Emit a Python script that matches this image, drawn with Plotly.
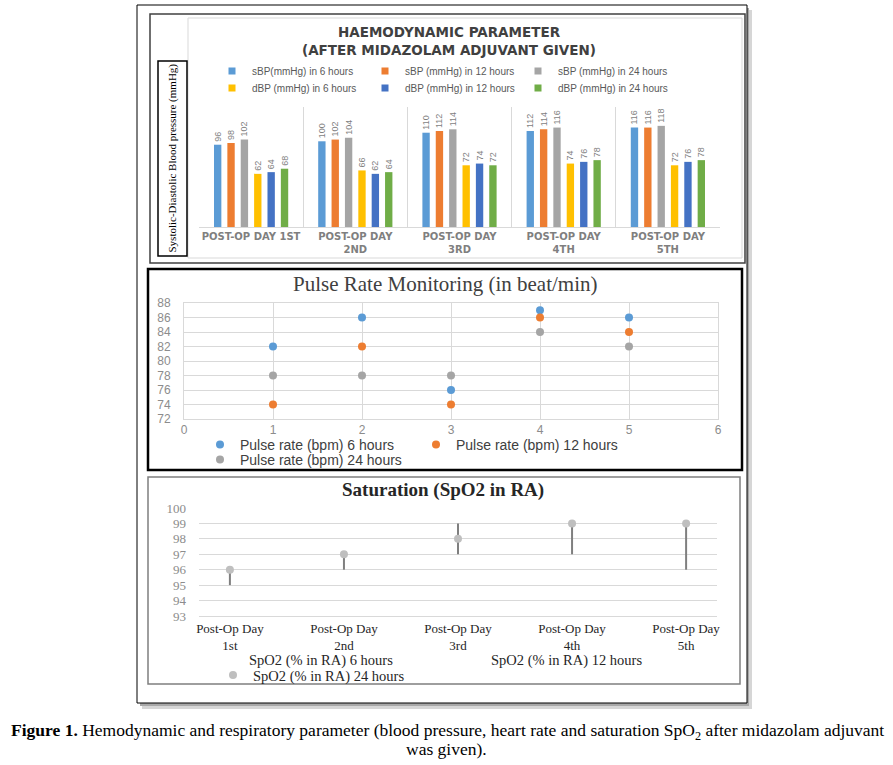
import plotly.graph_objects as go

# ---------------- DATA ----------------
bp_days = ["POST-OP DAY 1ST", "POST-OP DAY<br>2ND", "POST-OP DAY<br>3RD",
           "POST-OP DAY<br>4TH", "POST-OP DAY<br>5TH"]
sbp_6h = [96, 100, 110, 112, 116]
sbp_12h = [98, 102, 112, 114, 116]
sbp_24h = [102, 104, 114, 116, 118]
dbp_6h = [62, 66, 72, 74, 72]
dbp_12h = [64, 62, 74, 76, 76]
dbp_24h = [68, 64, 72, 78, 78]
bp_names = ["sBP(mmHg) in 6 hours", "sBP (mmHg) in 12 hours", "sBP (mmHg) in 24 hours",
            "dBP (mmHg) in 6 hours", "dBP (mmHg) in 12 hours", "dBP (mmHg) in 24 hours"]

pulse_day = [1, 2, 3, 4, 5]
pulse_6h = [82, 86, 76, 87, 86]
pulse_12h = [74, 82, 74, 86, 84]
pulse_24h = [78, 78, 78, 84, 82]
pulse_names = ["Pulse rate (bpm) 6 hours", "Pulse rate (bpm) 12 hours", "Pulse rate (bpm) 24 hours"]

spo2_days = ["Post-Op Day<br>1st", "Post-Op Day<br>2nd", "Post-Op Day<br>3rd",
             "Post-Op Day<br>4th", "Post-Op Day<br>5th"]
spo2_6h = [95, 96, 97, 97, 96]
spo2_12h = [96, 97, 99, 98, 98]
spo2_24h = [96, 97, 98, 99, 99]
spo2_names = ["SpO2 (% in RA) 6 hours", "SpO2 (% in RA) 12 hours", "SpO2 (% in RA) 24 hours"]

# ---------------- HELPERS ----------------
W, H = 893, 765
def px(x):
    return x / W
def py(y):
    return 1 - y / H

fig = go.Figure()

# ---------------- TOP: bar chart ----------------
bp_series = [sbp_6h, sbp_12h, sbp_24h, dbp_6h, dbp_12h, dbp_24h]
bp_colors = ["#5B9BD5", "#ED7D31", "#A5A5A5", "#FFC000", "#4472C4", "#70AD47"]
for i, (vals, name, col) in enumerate(zip(bp_series, bp_names, bp_colors)):
    fig.add_trace(go.Bar(
        x=bp_days, y=vals, name=name, marker=dict(color=col, line=dict(width=0)),
        text=vals, textposition="outside", textangle=-90, constraintext="none",
        textfont=dict(family="Liberation Sans", size=9, color="#7f7f7f"),
        cliponaxis=False, xaxis="x", yaxis="y", showlegend=False, legendgroup=name))
# legend entries with small square keys (as in the original legend)
for i, (name, col) in enumerate(zip(bp_names, bp_colors)):
    fig.add_trace(go.Scatter(
        x=[None], y=[None], mode="markers", name=name, legendgroup=name,
        marker=dict(symbol="square", size=7, color=col), xaxis="x", yaxis="y",
        legend="legend" if i < 3 else "legend2"))

# ---------------- MIDDLE: pulse scatter ----------------
pulse_series = [pulse_6h, pulse_12h, pulse_24h]
pulse_colors = ["#5B9BD5", "#ED7D31", "#A5A5A5"]
for i, (vals, name, col) in enumerate(zip(pulse_series, pulse_names, pulse_colors)):
    fig.add_trace(go.Scatter(
        x=pulse_day, y=vals, name=name, mode="markers",
        marker=dict(color=col, size=8), xaxis="x2", yaxis="y2",
        legend="legend3" if i < 2 else "legend4"))

# ---------------- BOTTOM: SpO2 high-low ----------------
hl_x, hl_y = [], []
for d, a, b, c in zip(spo2_days, spo2_6h, spo2_12h, spo2_24h):
    hl_x += [d, d, None]
    hl_y += [min(a, b, c), max(a, b, c), None]
fig.add_trace(go.Scatter(x=hl_x, y=hl_y, mode="lines", line=dict(color="#7f7f7f", width=2),
                         showlegend=False, hoverinfo="skip", xaxis="x3", yaxis="y3"))
fig.add_trace(go.Scatter(x=spo2_days, y=spo2_6h, name=spo2_names[0], mode="markers",
                         marker=dict(color="rgba(0,0,0,0)", size=8),
                         xaxis="x3", yaxis="y3", legend="legend5"))
fig.add_trace(go.Scatter(x=spo2_days, y=spo2_12h, name=spo2_names[1], mode="markers",
                         marker=dict(color="rgba(0,0,0,0)", size=8),
                         xaxis="x3", yaxis="y3", legend="legend5"))
fig.add_trace(go.Scatter(x=spo2_days, y=spo2_24h, name=spo2_names[2], mode="markers",
                         marker=dict(color="#BFBFBF", size=8),
                         xaxis="x3", yaxis="y3", legend="legend6"))

# ---------------- SHAPES ----------------
shapes = [
    # shadow of outer frame
    dict(type="rect", xref="paper", yref="paper", x0=px(142), x1=px(752), y0=py(10), y1=py(709),
         fillcolor="#d6d6d6", line=dict(width=0), layer="below"),
    dict(type="rect", xref="paper", yref="paper", x0=px(140), x1=px(749), y0=py(8), y1=py(706),
         fillcolor="#a8a8a8", line=dict(width=0), layer="below"),
    # outer frame
    dict(type="rect", xref="paper", yref="paper", x0=px(137), x1=px(747), y0=py(5), y1=py(703),
         fillcolor="white", line=dict(color="#000000", width=1), layer="below"),
    # top panel frame
    dict(type="rect", xref="paper", yref="paper", x0=px(150), x1=px(745), y0=py(14), y1=py(263),
         line=dict(color="#404040", width=1.5), layer="below"),
    # top chart area
    dict(type="rect", xref="paper", yref="paper", x0=px(188), x1=px(742), y0=py(18), y1=py(258),
         line=dict(color="#d9d9d9", width=1), layer="below"),
    # y-label box
    dict(type="rect", xref="paper", yref="paper", x0=px(158), x1=px(187), y0=py(61), y1=py(256),
         fillcolor="white", line=dict(color="#000000", width=1.5), layer="below"),
    # middle panel
    dict(type="rect", xref="paper", yref="paper", x0=px(148), x1=px(742), y0=py(269), y1=py(470),
         line=dict(color="#000000", width=2.5), layer="below"),
    # bottom panel
    dict(type="rect", xref="paper", yref="paper", x0=px(148), x1=px(740), y0=py(477), y1=py(684),
         line=dict(color="#7f7f7f", width=1.5), layer="below"),
]

# ---------------- ANNOTATIONS ----------------
annotations = [
    dict(text="HAEMODYNAMIC PARAMETER<br>(AFTER MIDAZOLAM ADJUVANT GIVEN)",
         x=px(449), y=py(41), xref="paper", yref="paper", xanchor="center", yanchor="middle",
         showarrow=False, font=dict(family="DejaVu Sans", size=13.5, color="#404040", weight="bold")),
    dict(text="Systolic-Diastolic Blood pressure (mmHg)", textangle=-90,
         x=px(172.5), y=py(158), xref="paper", yref="paper", xanchor="center", yanchor="middle",
         showarrow=False, font=dict(family="Liberation Serif", size=11, color="#000000")),
    dict(text="Pulse Rate Monitoring (in beat/min)",
         x=px(445), y=py(284), xref="paper", yref="paper", xanchor="center", yanchor="middle",
         showarrow=False, font=dict(family="Liberation Serif", size=21, color="#404040")),
    dict(text="<b>Saturation (SpO2 in RA)</b>",
         x=px(443), y=py(490), xref="paper", yref="paper", xanchor="center", yanchor="middle",
         showarrow=False, font=dict(family="Liberation Serif", size=19, color="#262626")),
    dict(text="<b>Figure 1.</b> Hemodynamic and respiratory parameter (blood pressure, heart rate and saturation SpO<sub>2</sub> after midazolam adjuvant",
         x=px(447), y=py(731), xref="paper", yref="paper", xanchor="center", yanchor="middle",
         showarrow=False, font=dict(family="Liberation Serif", size=17.5, color="#000000")),
    dict(text="was given).",
         x=px(446), y=py(749), xref="paper", yref="paper", xanchor="center", yanchor="middle",
         showarrow=False, font=dict(family="Liberation Serif", size=17.5, color="#000000")),
]

# ---------------- LEGENDS ----------------
def leg(x, y, font, entrywidth):
    d = dict(orientation="h", x=px(x), y=py(y), xanchor="left", yanchor="middle",
             bgcolor="rgba(0,0,0,0)", borderwidth=0, font=font, traceorder="normal",
             itemclick=False, itemdoubleclick=False)
    if entrywidth:
        d.update(entrywidth=entrywidth, entrywidthmode="pixels")
    return d

bp_font = dict(family="Liberation Sans", size=10, color="#595959")
pulse_font = dict(family="Liberation Sans", size=14, color="#404040")
spo2_font = dict(family="Liberation Serif", size=14.5, color="#262626")

fig.update_layout(
    width=W, height=H, margin=dict(l=0, r=0, t=0, b=0, autoexpand=False),
    paper_bgcolor="white", plot_bgcolor="rgba(0,0,0,0)",
    barmode="group", bargap=0.23, bargroupgap=0.45,
    shapes=shapes, annotations=annotations,
    legend=leg(212, 71, bp_font, 108),
    legend2=leg(212, 88, bp_font, 108),
    legend3=leg(200, 445, pulse_font, 171),
    legend4=leg(200, 460, pulse_font, 171),
    legend5=leg(209, 659, spo2_font, 197),
    legend6=leg(213, 675, spo2_font, 197),
    xaxis=dict(domain=[px(199), px(720)], anchor="y", type="category", tickson="boundaries",
               showgrid=True, gridcolor="#d9d9d9", gridwidth=1, showline=True, linecolor="#d9d9d9",
               ticks="", tickangle=0,
               tickfont=dict(family="DejaVu Sans", size=10, color="#7f7f7f", weight="bold"),
               fixedrange=True),
    yaxis=dict(domain=[py(227), py(107)], anchor="x", range=[0, 140], visible=False, fixedrange=True),
    xaxis2=dict(domain=[px(184), px(718)], anchor="y2", range=[0, 6], dtick=1, tick0=0,
                showgrid=True, gridcolor="#d9d9d9", zeroline=False, showline=True, mirror=True,
                linecolor="#d9d9d9", ticks="", tickangle=0,
                tickfont=dict(family="Liberation Sans", size=12, color="#8c8c8c"), fixedrange=True),
    yaxis2=dict(domain=[py(419), py(303)], anchor="x2", range=[72, 88], dtick=2, tick0=72,
                showgrid=True, gridcolor="#d9d9d9", zeroline=False, showline=True, mirror=True,
                linecolor="#d9d9d9", ticks="", ticklabelstandoff=10,
                tickfont=dict(family="Liberation Sans", size=12, color="#8c8c8c"), fixedrange=True),
    xaxis3=dict(domain=[px(199), px(717)], anchor="y3", type="category", showgrid=False,
                showline=True, linecolor="#d9d9d9", ticks="", tickangle=0,
                tickfont=dict(family="Liberation Serif", size=13, color="#262626"), fixedrange=True),
    yaxis3=dict(domain=[py(616), py(508)], anchor="x3", range=[93, 100], dtick=1, tick0=93,
                showgrid=True, gridcolor="#d9d9d9", zeroline=False, showline=False, ticks="",
                ticklabelstandoff=12,
                tickfont=dict(family="Liberation Serif", size=13, color="#8c8c8c"), fixedrange=True),
)

# remove the browser's default page margin so the 893x765 figure fills the window exactly
fig.write_html("out.html", config={"displayModeBar": False},
               post_script="document.body.style.margin='0px';document.body.style.overflow='hidden';")
